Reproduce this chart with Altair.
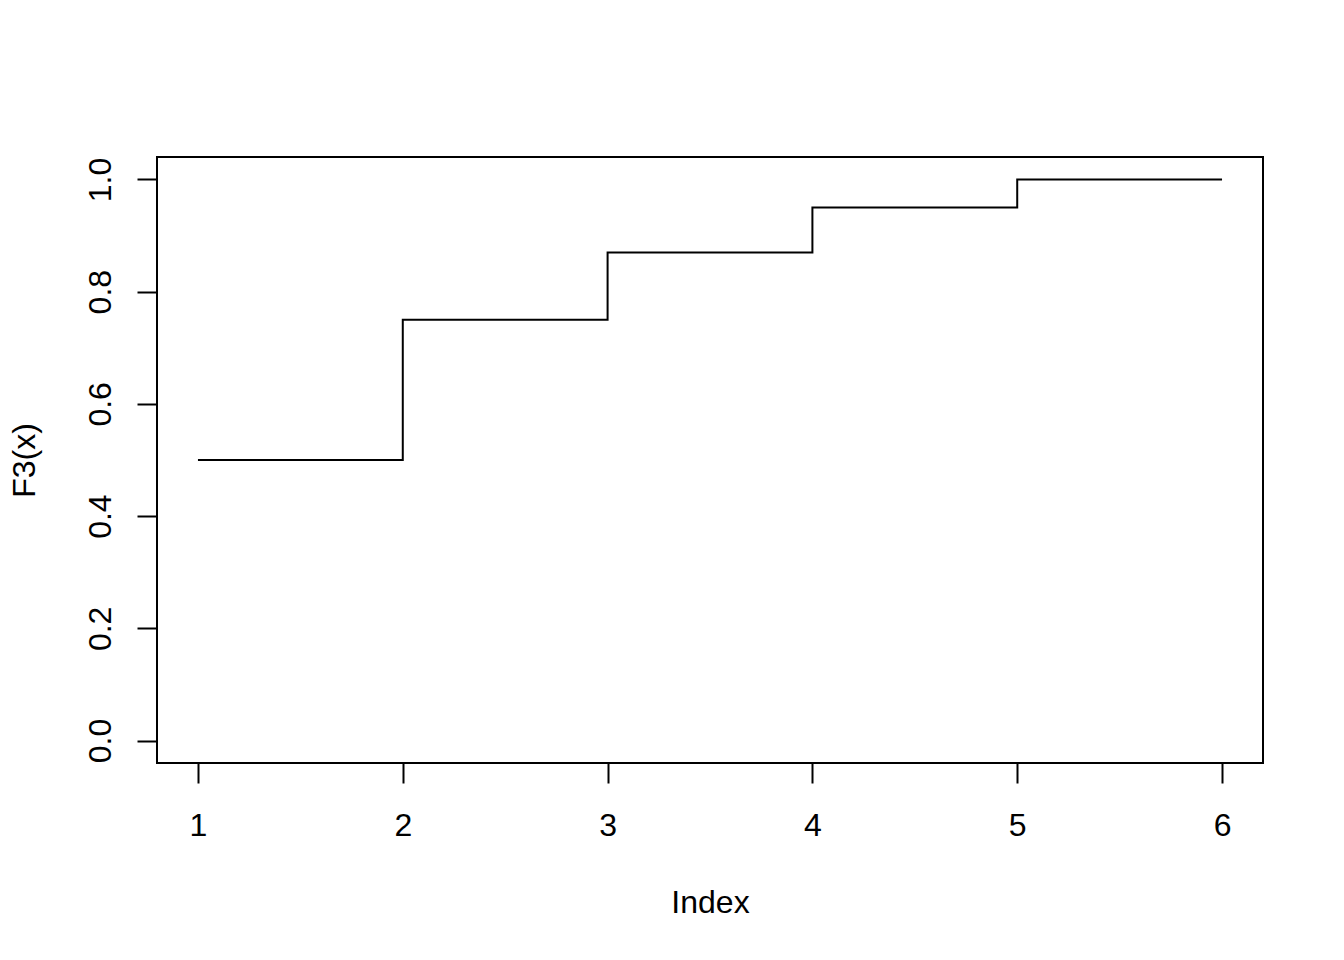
import altair as alt
import pandas as pd

index = [1, 2, 3, 4, 5, 6]
f3 = [0.5, 0.75, 0.87, 0.95, 1.0, 1.0]
x_ticks = [1, 2, 3, 4, 5, 6]
y_ticks = [0.0, 0.2, 0.4, 0.6, 0.8, 1.0]

df = pd.DataFrame({"Index": index, "F3": f3})

FONT = "Liberation Sans"

chart = alt.Chart(df).mark_line(
    interpolate="step-after", color="black", strokeWidth=2
).encode(
    x=alt.X(
        "Index:Q",
        scale=alt.Scale(domain=[0.8, 6.2], nice=False, zero=False),
        axis=alt.Axis(
            values=x_ticks, format="d", grid=False, domain=False,
            tickSize=20, tickWidth=2, tickColor="black",
            labelFontSize=32, labelFont=FONT, labelColor="black",
            labelBaseline="alphabetic", labelPadding=52,
            title="Index", titleFontSize=32, titleFont=FONT,
            titleFontWeight="normal", titleColor="black",
            titleBaseline="alphabetic", titleY=149, titleX=553,
            titleAlign="center",
        ),
    ),
    y=alt.Y(
        "F3:Q",
        scale=alt.Scale(domain=[-0.04, 1.04], nice=False, zero=False),
        axis=alt.Axis(
            values=y_ticks, format=".1f", grid=False, domain=False,
            tickSize=20, tickWidth=2, tickColor="black",
            labelFontSize=32, labelFont=FONT, labelColor="black",
            labelAngle=-90, labelAlign="center", labelBaseline="alphabetic",
            labelPadding=27,
            title="F3(x)", titleFontSize=32, titleFont=FONT,
            titleFontWeight="normal", titleColor="black",
            titleAngle=-90, titleAlign="center", titleBaseline="alphabetic",
            titleX=-123, titleY=303,
        ),
    ),
).properties(
    width=1106,
    height=606,
    background="white",
    padding={"left": 149, "top": 149, "right": 73, "bottom": 189},
    autosize=alt.AutoSizeParams(type="none"),
).configure_view(
    stroke="black", strokeWidth=2
)

chart.save("out.html", embed_options={"renderer": "svg", "actions": False})
